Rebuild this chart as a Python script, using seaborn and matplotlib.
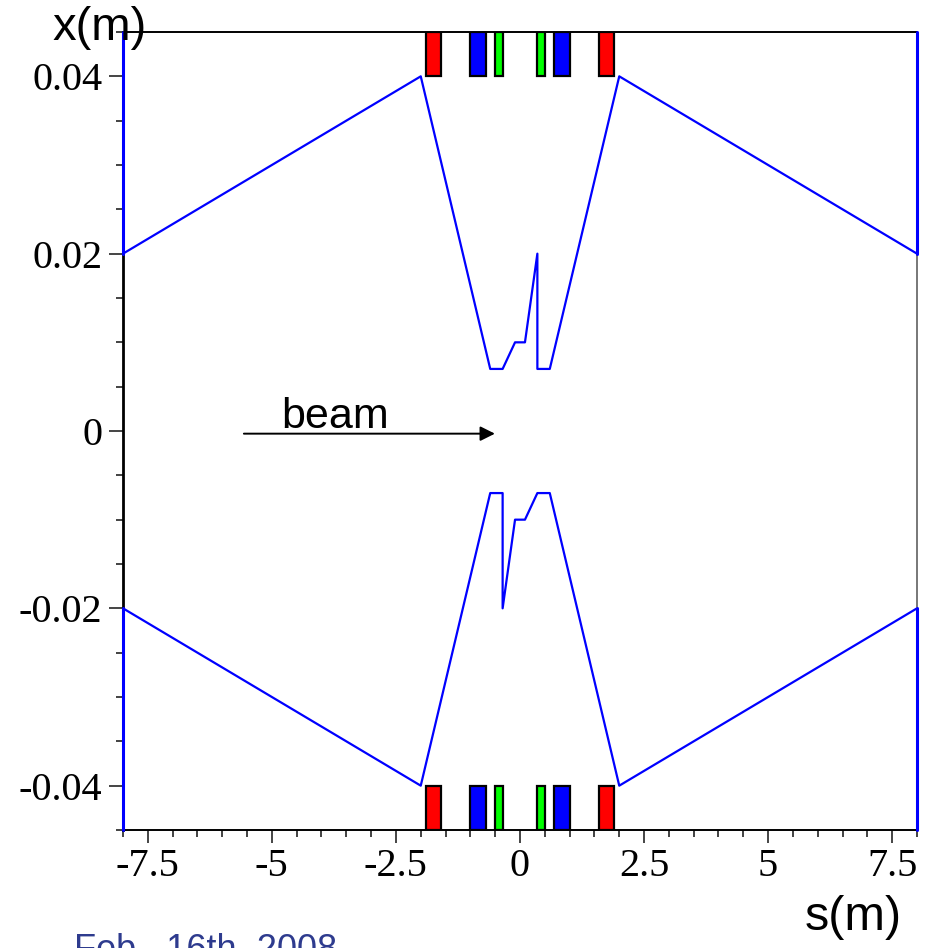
import matplotlib
matplotlib.use("Agg")
import matplotlib.pyplot as plt
import seaborn as sns
import numpy as np
import pandas as pd
from matplotlib.ticker import FixedLocator, MultipleLocator

# Beam envelope (upper and lower edge), s in metres, x in metres
upper_s = [-8, -2, -0.6, -0.35, -0.1, 0.1, 0.35, 0.35, 0.6, 2, 8]
upper_x = [0.02, 0.04, 0.007, 0.007, 0.01, 0.01, 0.02, 0.007, 0.007, 0.04, 0.02]
lower_s = [-8, -2, -0.6, -0.35, -0.35, -0.1, 0.1, 0.35, 0.6, 2, 8]
lower_x = [-0.02, -0.04, -0.007, -0.007, -0.02, -0.01, -0.01, -0.007, -0.007, -0.04, -0.02]

# Magnet elements along the beam line
magnet_start = [-1.9, -1.0, -0.5, 0.34, 0.69, 1.6]
magnet_end = [-1.6, -0.69, -0.34, 0.5, 1.0, 1.9]
magnet_color = ["#ff0000", "#0000ff", "#00ff00", "#00ff00", "#0000ff", "#ff0000"]
aperture = 0.04
aperture_edge = 0.045

# Axis ticks
x_ticks = [-7.5, -5, -2.5, 0, 2.5, 5, 7.5]
x_tick_labels = ["-7.5", "-5", "-2.5", "0", "2.5", "5", "7.5"]
y_ticks = [-0.04, -0.02, 0, 0.02, 0.04]
y_tick_labels = ["-0.04", "-0.02", "0", "0.02", "0.04"]

sns.set_style("ticks")
plt.rcParams["font.family"] = ["Liberation Serif", "DejaVu Serif"]
plt.rcParams["text.color"] = "black"
plt.rcParams["xtick.labelcolor"] = "black"
plt.rcParams["ytick.labelcolor"] = "black"

sans = ["Liberation Sans", "DejaVu Sans"]

fig = plt.figure(figsize=(9.37, 9.48), dpi=100)
ax = fig.add_axes([123 / 937, 1 - 830 / 948, (917 - 123) / 937, (830 - 32) / 948])

env = pd.concat([
    pd.DataFrame({"s": upper_s, "x": upper_x, "edge": "upper"}),
    pd.DataFrame({"s": lower_s, "x": lower_x, "edge": "lower"}),
])
sns.lineplot(data=env, x="s", y="x", units="edge", estimator=None, sort=False,
             color="#0000ff", linewidth=1.6, ax=ax, legend=False)

# Envelope continues up to the chamber wall at both ends
for s_end, x_end in [(upper_s[0], upper_x[0]), (upper_s[-1], upper_x[-1])]:
    ax.plot([s_end, s_end], [x_end, aperture_edge], color="#0000ff", lw=2.2, clip_on=False, zorder=5)
for s_end, x_end in [(lower_s[0], lower_x[0]), (lower_s[-1], lower_x[-1])]:
    ax.plot([s_end, s_end], [x_end, -aperture_edge], color="#0000ff", lw=2.2, clip_on=False, zorder=5)

# Magnets above and below the beam
starts = np.array(magnet_start)
widths = np.array(magnet_end) - starts
for bottom in (aperture, -aperture_edge):
    ax.bar(starts, aperture_edge - aperture, width=widths, bottom=bottom, align="edge",
           color=magnet_color, edgecolor="black", linewidth=1.6, zorder=4)

# Beam direction
ax.annotate("", xy=(-0.45, -0.0003), xytext=(-5.62, -0.0003),
            arrowprops=dict(arrowstyle="-|>", color="black", lw=1.4, mutation_scale=22))
ax.text(-3.72, 0.00035, "beam", family=sans, fontsize=31, color="black",
        ha="center", va="baseline")

ax.set_xlim(-8, 8)
ax.set_ylim(-aperture_edge, aperture_edge)
ax.set_xlabel("")
ax.set_ylabel("")
ax.xaxis.set_major_locator(FixedLocator(x_ticks))
ax.set_xticklabels(x_tick_labels)
ax.xaxis.set_minor_locator(MultipleLocator(0.5))
ax.yaxis.set_major_locator(FixedLocator(y_ticks))
ax.set_yticklabels(y_tick_labels)
ax.yaxis.set_minor_locator(MultipleLocator(0.005))
ax.tick_params(axis="both", which="major", direction="out", length=9, width=1.4,
               color="#444444", labelsize=29, labelcolor="black", pad=4)
ax.tick_params(axis="both", which="minor", direction="out", length=5, width=1.2, color="#222222")
ax.tick_params(axis="y", which="major", length=10, pad=5)

for side in ["top", "right", "bottom", "left"]:
    ax.spines[side].set_visible(True)
    ax.spines[side].set_color("black")
    ax.spines[side].set_linewidth(1.4)
ax.spines["left"].set_linewidth(2.0)
ax.spines["right"].set_color("#777777")

fig.text(100 / 937, 1 - 28 / 948, "x(m)", family=sans, fontsize=34, color="black",
         ha="center", va="center")
fig.text(853 / 937, 1 - 918 / 948, "s(m)", family=sans, fontsize=35, color="black",
         ha="center", va="center")
fig.text(74 / 937, 1 - 933 / 948, "Feb., 16th, 2008", family=sans,
         fontsize=26, color="#2e3b8e", ha="left", va="top")

fig.savefig("out.png", dpi=100)
